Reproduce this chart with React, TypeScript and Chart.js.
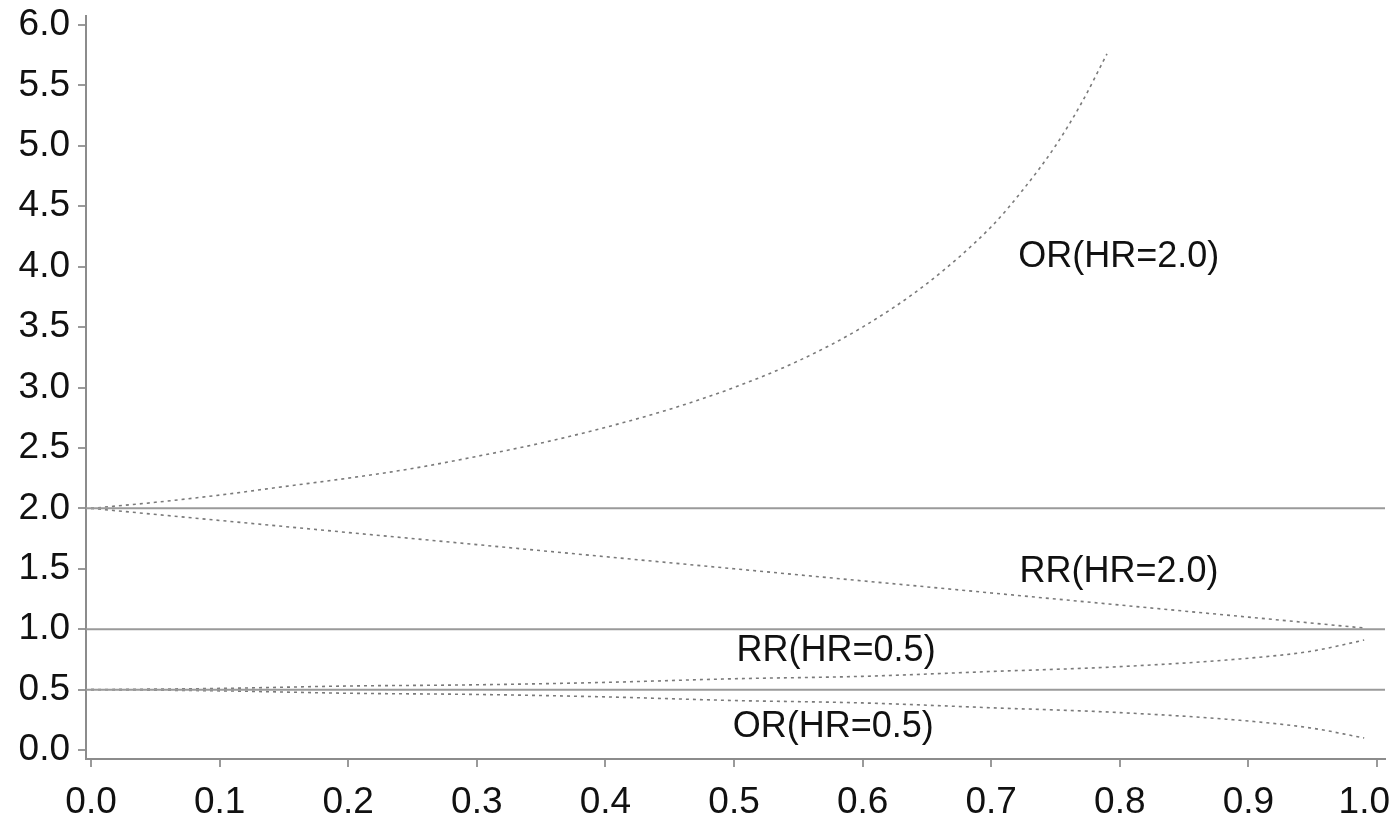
import React, { useEffect, useRef } from "react";
import { Chart, registerables } from "chart.js";

Chart.register(...registerables);

// Axis ranges and ticks
const X_MIN = -0.0039;
const X_MAX = 1.0062;
const Y_MIN = -0.074;
const Y_MAX = 6.074;
const X_TICKS = [0, 0.1, 0.2, 0.3, 0.4, 0.5, 0.6, 0.7, 0.8, 0.9, 1.0];
const Y_TICKS = [0, 0.5, 1.0, 1.5, 2.0, 2.5, 3.0, 3.5, 4.0, 4.5, 5.0, 5.5, 6.0];

// Horizontal reference levels
const REF_LEVELS = [2.0, 1.0, 0.5];

// OR(HR=2.0)
const P_OR2 = [0, 0.05, 0.1, 0.15, 0.2, 0.25, 0.3, 0.35, 0.4, 0.45, 0.5, 0.55, 0.6, 0.65, 0.7, 0.725, 0.75, 0.77, 0.79];
const OR2 = [2.0, 2.05, 2.11, 2.18, 2.25, 2.33, 2.43, 2.54, 2.67, 2.82, 3.0, 3.22, 3.5, 3.86, 4.33, 4.64, 5.0, 5.35, 5.76];

// RR(HR=2.0)
const P_RR2 = [0, 0.1, 0.2, 0.3, 0.4, 0.5, 0.6, 0.7, 0.8, 0.9, 0.99];
const RR2 = [2.0, 1.9, 1.8, 1.7, 1.6, 1.5, 1.4, 1.3, 1.2, 1.1, 1.01];

// RR(HR=0.5) and OR(HR=0.5)
const P_HALF = [0, 0.1, 0.2, 0.3, 0.4, 0.5, 0.6, 0.7, 0.8, 0.9, 0.95, 0.99];
const RR05 = [0.5, 0.51, 0.53, 0.54, 0.56, 0.59, 0.61, 0.65, 0.69, 0.76, 0.82, 0.91];
const OR05 = [0.5, 0.49, 0.47, 0.46, 0.44, 0.41, 0.39, 0.35, 0.31, 0.24, 0.18, 0.1];

// In-plot curve labels (data coordinates, left/baseline)
const LABEL_TEXT = ["OR(HR=2.0)", "RR(HR=2.0)", "RR(HR=0.5)", "OR(HR=0.5)"];
const LABEL_X = [0.721, 0.722, 0.502, 0.499];
const LABEL_Y = [4.0, 1.39, 0.736, 0.107];

const FONT = '"Liberation Sans", Arial, Helvetica, sans-serif';

const toPts = (xs: number[], ys: number[]) => xs.map((x, i) => ({ x, y: ys[i] }));

const labelPlugin = {
  id: "curveLabels",
  afterDatasetsDraw(chart: any) {
    const { ctx, scales } = chart;
    ctx.save();
    // curve labels
    ctx.font = `36px ${FONT}`;
    ctx.fillStyle = "#111";
    ctx.textAlign = "left";
    ctx.textBaseline = "alphabetic";
    LABEL_TEXT.forEach((t, i) => {
      const x = scales.x.getPixelForValue(LABEL_X[i]);
      const y = scales.y.getPixelForValue(LABEL_Y[i]);
      ctx.fillText(t, x, y);
    });
    // x tick labels (kept inside the canvas at the right edge)
    ctx.font = `37px ${FONT}`;
    ctx.textAlign = "center";
    const baseY = scales.x.top + 54;
    X_TICKS.forEach((v) => {
      const txt = v.toFixed(1);
      const w = ctx.measureText(txt).width;
      let cx = scales.x.getPixelForValue(v);
      const maxRight = chart.width - 5;
      if (cx + w / 2 > maxRight) cx = maxRight - w / 2;
      ctx.fillText(txt, cx, baseY);
    });
    ctx.restore();
  },
};

export default function App() {
  const ref = useRef<HTMLCanvasElement | null>(null);

  useEffect(() => {
    if (!ref.current) return;
    const curveStyle = {
      borderColor: "#7a7a7a",
      borderWidth: 1.6,
      borderDash: [3, 4],
      pointRadius: 0,
      fill: false,
    };
    const datasets: any[] = [
      ...REF_LEVELS.map((lvl) => ({
        data: [
          { x: X_MIN, y: lvl },
          { x: X_MAX, y: lvl },
        ],
        borderColor: "#9a9a9a",
        borderWidth: 2,
        pointRadius: 0,
        fill: false,
      })),
      { ...curveStyle, data: toPts(P_OR2, OR2), cubicInterpolationMode: "monotone" },
      { ...curveStyle, data: toPts(P_RR2, RR2) },
      { ...curveStyle, data: toPts(P_HALF, RR05), cubicInterpolationMode: "monotone" },
      { ...curveStyle, data: toPts(P_HALF, OR05), cubicInterpolationMode: "monotone" },
    ];

    const axisCommon = {
      type: "linear" as const,
      grid: {
        display: true,
        drawOnChartArea: false,
        drawTicks: true,
        tickLength: 8,
        color: "#9a9a9a",
        lineWidth: 2,
      },
      border: { display: true, color: "#8c8c8c", width: 2 },
    };

    const chart = new Chart(ref.current, {
      type: "line",
      data: { datasets },
      options: {
        animation: false,
        responsive: true,
        maintainAspectRatio: false,
        devicePixelRatio: 1,
        layout: { padding: { left: 0, top: 16, right: 10, bottom: 0 } },
        plugins: { legend: { display: false }, tooltip: { enabled: false } },
        scales: {
          x: {
            ...axisCommon,
            min: X_MIN,
            max: X_MAX,
            afterBuildTicks: (s: any) => {
              s.ticks = X_TICKS.map((v) => ({ value: v }));
            },
            afterFit: (s: any) => {
              s.height = 61;
              s.paddingLeft = 0;
              s.paddingRight = 0;
            },
            ticks: {
              display: false,
              autoSkip: false,
              maxRotation: 0,
            },
          },
          y: {
            ...axisCommon,
            min: Y_MIN,
            max: Y_MAX,
            afterBuildTicks: (s: any) => {
              s.ticks = Y_TICKS.map((v) => ({ value: v }));
            },
            afterFit: (s: any) => {
              s.width = 86;
              s.paddingTop = 0;
              s.paddingBottom = 0;
            },
            ticks: {
              autoSkip: false,
              padding: 8,
              color: "#111",
              font: { family: FONT, size: 37 },
              callback: (v: any) => Number(v).toFixed(1),
            },
          },
        },
      },
      plugins: [labelPlugin],
    });
    return () => chart.destroy();
  }, []);

  return (
    <div style={{ position: "fixed", left: 0, top: 0, width: 1395, height: 820, background: "#fff" }}>
      <canvas ref={ref} />
    </div>
  );
}
